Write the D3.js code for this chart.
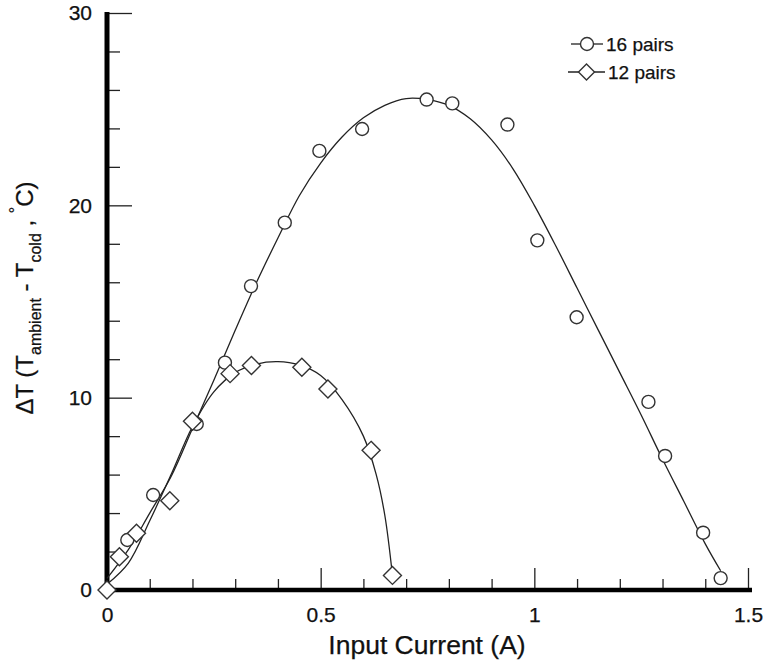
<!DOCTYPE html>
<html>
<head>
<meta charset="utf-8">
<script src="https://cdn.jsdelivr.net/npm/d3@7"></script>
<style>
  body { margin: 0; background: #fff; }
  svg { display: block; font-family: "Liberation Sans", Arial, sans-serif; }
  text { fill: #111; stroke: #111; stroke-width: 0.25; }
  .tick line { stroke: #222; stroke-width: 1.3; }
  .fit { fill: none; stroke: #222; stroke-width: 1.3; }
  .mk { fill: #fff; stroke: #333; stroke-width: 1.4; }
</style>
</head>
<body>
<div id="chart"></div>
<script>
// Measured points, 16 thermocouple pairs
const current16 = [0.0475, 0.108, 0.21, 0.276, 0.337, 0.416, 0.497, 0.597, 0.748, 0.808, 0.937, 1.007, 1.099, 1.267, 1.306, 1.395, 1.436]
const deltaT16  = [2.6, 4.94, 8.63, 11.82, 15.8, 19.1, 22.83, 23.97, 25.5, 25.3, 24.2, 18.18, 14.18, 9.78, 6.97, 2.98, 0.62]

// Measured points, 12 pairs
const current12 = [0, 0.029, 0.069, 0.147, 0.2, 0.288, 0.338, 0.456, 0.517, 0.618, 0.668]
const deltaT12  = [0, 1.73, 2.95, 4.64, 8.77, 11.25, 11.67, 11.58, 10.45, 7.26, 0.76]

// Fitted curves
const fitX16 = [0, 0.05, 0.1, 0.15, 0.2, 0.25, 0.3, 0.35, 0.4, 0.45, 0.5, 0.55, 0.6, 0.65, 0.7, 0.75, 0.8, 0.85, 0.9, 0.95, 1.0, 1.05, 1.1, 1.15, 1.2, 1.25, 1.3, 1.35, 1.4, 1.436]
const fitY16 = [0.6, 2.1, 4.0, 5.9, 8.4, 10.9, 13.5, 16.0, 18.3, 20.5, 22.2, 23.55, 24.55, 25.2, 25.55, 25.5, 25.2, 24.5, 23.4, 21.9, 20.0, 17.9, 15.7, 13.5, 11.3, 9.1, 6.8, 4.6, 2.4, 1.0]

const fitX12 = [0, 0.05, 0.1, 0.15, 0.2, 0.25, 0.3, 0.35, 0.4, 0.45, 0.5, 0.55, 0.6, 0.63, 0.65, 0.668]
const fitY12 = [0.3, 1.4, 3.6, 6.0, 8.5, 10.3, 11.3, 11.75, 11.87, 11.7, 11.15, 9.9, 8.0, 6.0, 3.9, 0.76]

const xMajor = [0, 0.5, 1, 1.5]
const xMinor = [0.1, 0.2, 0.3, 0.4, 0.6, 0.7, 0.8, 0.9, 1.1, 1.2, 1.3, 1.4]
const yMajor = [0, 10, 20, 30]
const yMinor = [2, 4, 6, 8, 12, 14, 16, 18, 22, 24, 26, 28]

const seriesNames = ['16 pairs', '12 pairs']

const width = 766
const height = 664

const svg = d3.select('#chart')
  .append('svg')
  .attr('width', width)
  .attr('height', height)

const x = d3.scaleLinear().domain([0, 1.5]).range([107, 748])
const y = d3.scaleLinear().domain([0, 30]).range([590, 13])

// minor ticks first (inward)
svg.append('g')
  .attr('transform', `translate(0, ${y(0)})`)
  .call(d3.axisBottom(x).tickValues(xMinor).tickSize(-11).tickFormat(''))
  .call(g => g.select('.domain').remove())

svg.append('g')
  .attr('transform', `translate(${x(0)}, 0)`)
  .call(d3.axisLeft(y).tickValues(yMinor).tickSize(-13).tickFormat(''))
  .call(g => g.select('.domain').remove())

// major ticks with labels
svg.append('g')
  .attr('transform', `translate(0, ${y(0)})`)
  .call(d3.axisBottom(x).tickValues(xMajor).tickSize(-22).tickPadding(17).tickFormat(d3.format('')))
  .call(g => g.select('.domain').remove())
  .call(g => g.selectAll('.tick line').filter(d => d === 0).remove())
  .call(g => g.selectAll('text').attr('font-size', 21).attr('font-family', null).attr('fill', null))

svg.append('g')
  .attr('transform', `translate(${x(0)}, 0)`)
  .call(d3.axisLeft(y).tickValues(yMajor).tickSize(-25).tickPadding(15))
  .call(g => g.select('.domain').remove())
  .call(g => g.selectAll('.tick line').filter(d => d === 0).remove())
  .call(g => g.selectAll('text').attr('font-size', 21).attr('font-family', null).attr('fill', null))

// thick axis lines
svg.append('line')
  .attr('x1', x(0)).attr('x2', x(0))
  .attr('y1', y(30) - 1).attr('y2', y(0) + 2)
  .attr('stroke', '#000').attr('stroke-width', 5)
svg.append('line')
  .attr('x1', x(0) - 2).attr('x2', x(1.5) + 4)
  .attr('y1', y(0)).attr('y2', y(0))
  .attr('stroke', '#000').attr('stroke-width', 4.5)

// fitted curves
const line = d3.line()
  .x(d => x(d[0]))
  .y(d => y(d[1]))
  .curve(d3.curveCatmullRom.alpha(0.5))

svg.append('path')
  .datum(d3.zip(fitX16, fitY16))
  .attr('class', 'fit')
  .attr('d', line)

svg.append('path')
  .datum(d3.zip(fitX12, fitY12))
  .attr('class', 'fit')
  .attr('d', line)

// markers
const diamond = s => `M0,${-s}L${s},0L0,${s}L${-s},0Z`

svg.append('g')
  .selectAll('circle')
  .data(d3.zip(current16, deltaT16))
  .join('circle')
  .attr('class', 'mk')
  .attr('cx', d => x(d[0]))
  .attr('cy', d => y(d[1]))
  .attr('r', 6.5)

svg.append('g')
  .selectAll('path')
  .data(d3.zip(current12, deltaT12))
  .join('path')
  .attr('class', 'mk')
  .attr('transform', d => `translate(${x(d[0])}, ${y(d[1])})`)
  .attr('d', diamond(9))

// legend
const legend = svg.append('g').attr('font-size', 19)
const legendRows = [
  { name: seriesNames[0], y: 44, x1: 571, x2: 603, sym: 'circle' },
  { name: seriesNames[1], y: 72, x1: 568, x2: 605, sym: 'diamond' }
]
legendRows.forEach(r => {
  legend.append('line')
    .attr('x1', r.x1).attr('x2', r.x2)
    .attr('y1', r.y).attr('y2', r.y)
    .attr('stroke', '#222').attr('stroke-width', 1.3)
  const cx = (r.x1 + r.x2) / 2
  if (r.sym === 'circle') {
    legend.append('circle').attr('class', 'mk').attr('cx', cx).attr('cy', r.y).attr('r', 6.5)
  } else {
    legend.append('path').attr('class', 'mk')
      .attr('transform', `translate(${cx}, ${r.y})`)
      .attr('d', diamond(8))
  }
  legend.append('text')
    .attr('x', r.x2 + 3)
    .attr('y', r.y)
    .attr('dy', '0.35em')
    .text(r.name)
})

// axis titles
svg.append('text')
  .attr('x', 427)
  .attr('y', 654)
  .attr('text-anchor', 'middle')
  .attr('font-size', 26.5)
  .text('Input Current (A)')

const yTitle = svg.append('text')
  .attr('transform', 'translate(33, 298) rotate(-90)')
  .attr('text-anchor', 'middle')
  .attr('font-size', 24)

yTitle.append('tspan').text('\u0394T (T')
yTitle.append('tspan').attr('font-size', 16).attr('dy', 8).text('ambient')
yTitle.append('tspan').attr('dy', -8).text(' - T')
yTitle.append('tspan').attr('font-size', 16).attr('dy', 8).text('cold')
yTitle.append('tspan').attr('dy', -8).text(' , ')
yTitle.append('tspan').attr('font-size', 16).attr('dy', -12).text('\u00B0')
yTitle.append('tspan').attr('dy', 12).text('C)')
</script>
</body>
</html>
